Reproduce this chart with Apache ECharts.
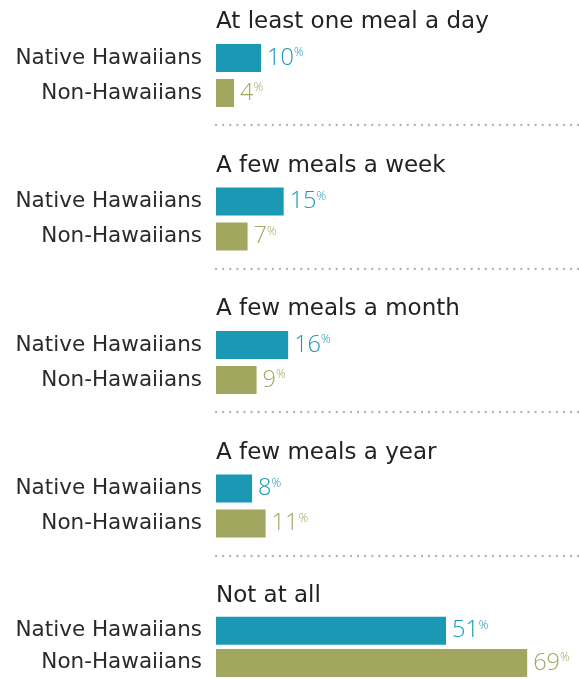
<!DOCTYPE html>
<html><head><meta charset="utf-8">
<script src="https://cdn.jsdelivr.net/npm/echarts@6/dist/echarts.min.js"></script>
<style>html,body{margin:0;padding:0;background:#fff}#c{width:579px;height:679px}</style>
</head><body><div id="c"></div>
<script>
const groups = ['At least one meal a day','A few meals a week','A few meals a month','A few meals a year','Not at all'];
const rowLabels = ['Native Hawaiians','Non-Hawaiians'];
const nativeVals = [10,15,16,8,51];
const nonVals = [4,7,9,11,69];

const TEAL = '#1a98b4', OLIVE = '#a1a75e';
const FONT = 'DejaVu Sans';
const NUMFONT = 'Open Sans';
const STEP = 143.5;
const PX_PER_PCT = 4.51;
const chart = echarts.init(document.getElementById('c'));
const title = [], grid = [], xAxis = [], yAxis = [], series = [];
function lbl(color){
  return {show:true, position:'right', distance:6, color:color,
    formatter: p => '{v|'+p.value+'}{p|%}',
    rich:{v:{fontFamily:NUMFONT,fontSize:23.5,color:color,fontWeight:300},
          p:{fontFamily:NUMFONT,fontSize:12,color:color,padding:[0,0,10,0],fontWeight:300}}};
}
groups.forEach((g,i)=>{
  title.push({text:g, left:216, top:11+STEP*i, padding:0,
    textStyle:{fontFamily:FONT,fontSize:23,fontWeight:'normal',color:'#222'}});
  grid.push({left:216, width:363, top:40.5+STEP*i, height:70});
  xAxis.push({type:'value', gridIndex:i, min:0, max:363/PX_PER_PCT, show:i<4,
    axisLabel:{show:false}, axisTick:{show:false}, splitLine:{show:false},
    axisLine:{show:i<4, onZero:false, lineStyle:{color:'#b3b3b3', width:2.3, type:[0.1,7], cap:'round'}},
    position:'bottom', offset:14.5});
  yAxis.push({type:'category', gridIndex:i, data:rowLabels, inverse:true,
    axisLine:{show:false}, axisTick:{show:false},
    axisLabel:{margin:14, fontFamily:FONT, fontSize:21.5, color:'#2a2a2a'}});
  series.push({type:'bar', xAxisIndex:i, yAxisIndex:i, barWidth:28, silent:true,
    data:[{value:nativeVals[i], itemStyle:{color:TEAL}, label:lbl(TEAL)},
          {value:nonVals[i], itemStyle:{color:OLIVE}, label:lbl(OLIVE)}]});
});
chart.setOption({animation:false, title, grid, xAxis, yAxis, series});
</script></body></html>
